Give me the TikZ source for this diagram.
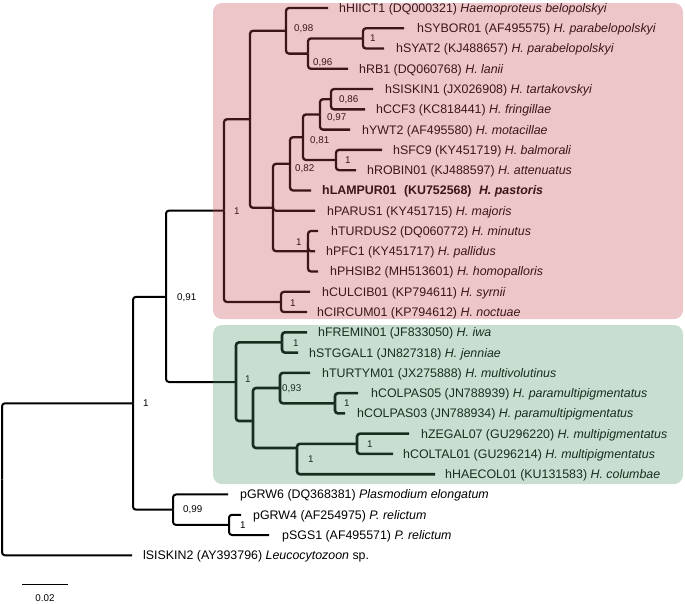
\documentclass[tikz,border=0pt]{standalone}
\usepackage{fontspec}
\setmainfont{Liberation Sans}
\definecolor{pinkov}{RGB}{194,71,81}
\definecolor{greenov}{RGB}{77,148,103}
\tikzset{
  outerbr/.style={line width=2pt, rounded corners=3pt},
  pinkbr/.style={line width=2.3pt, rounded corners=3pt},
  greenbr/.style={line width=2.6pt, rounded corners=3pt},
  leaftext/.style={anchor=base west, inner sep=0pt, font=\fontsize{12.4}{14}\selectfont},
  supp/.style={anchor=base west, inner sep=0pt, font=\fontsize{9.8}{11}\selectfont},
  box/.style={rounded corners=9pt, fill opacity=0.31}
}
\newcommand\mkleaf[5]{%
  \coordinate (#1e) at (#3,{8+20.27*#2});
  \node[leaftext] (#1) at (#4,{8+20.27*#2+4.45}) {#5};}
\newcommand\mksupp[4]{\node[supp] (#1) at (#2,{#3+3.5}) {#4};}
\begin{document}
\begin{tikzpicture}[x=1pt,y=-1pt]
\useasboundingbox (0,0) rectangle (685,603);
% leaves
\mkleaf{hHIICT1}{0}{328}{339}{hHIICT1 (DQ000321) \textit{Haemoproteus belopolskyi}}
\mkleaf{hSYBOR01}{1}{404}{417}{hSYBOR01 (AF495575) \textit{H. parabelopolskyi}}
\mkleaf{hSYAT2}{2}{384}{396}{hSYAT2 (KJ488657) \textit{H. parabelopolskyi}}
\mkleaf{hRB1}{3}{348}{359}{hRB1 (DQ060768) \textit{H. lanii}}
\mkleaf{hSISKIN1}{4}{373}{385}{hSISKIN1 (JX026908) \textit{H. tartakovskyi}}
\mkleaf{hCCF3}{5}{365}{376}{hCCF3 (KC818441) \textit{H. fringillae}}
\mkleaf{hYWT2}{6}{350}{362}{hYWT2 (AF495580) \textit{H. motacillae}}
\mkleaf{hSFC9}{7}{382}{393}{hSFC9 (KY451719) \textit{H. balmorali}}
\mkleaf{hROBIN01}{8}{356}{367}{hROBIN01 (KJ488597) \textit{H. attenuatus}}
\mkleaf{hLAMPUR01}{9}{311}{322}{\bfseries hLAMPUR01\hspace{0.6em}(KU752568)\hspace{0.6em}\textit{H. pastoris}}
\mkleaf{hPARUS1}{10}{315}{327}{hPARUS1 (KY451715) \textit{H. majoris}}
\mkleaf{hTURDUS2}{11}{318}{331}{hTURDUS2 (DQ060772) \textit{H. minutus}}
\mkleaf{hPFC1}{12}{315}{326}{hPFC1 (KY451717) \textit{H. pallidus}}
\mkleaf{hPHSIB2}{13}{318}{330}{hPHSIB2 (MH513601) \textit{H. homopalloris}}
\mkleaf{hCULCIB01}{14}{310}{322}{hCULCIB01 (KP794611) \textit{H. syrnii}}
\mkleaf{hCIRCUM01}{15}{307}{317}{hCIRCUM01 (KP794612) \textit{H. noctuae}}
\mkleaf{hFREMIN01}{16}{307}{318}{hFREMIN01 (JF833050) \textit{H. iwa}}
\mkleaf{hSTGGAL1}{17}{298}{309}{hSTGGAL1 (JN827318) \textit{H. jenniae}}
\mkleaf{hTURTYM01}{18}{310}{322}{hTURTYM01 (JX275888) \textit{H. multivolutinus}}
\mkleaf{hCOLPAS05}{19}{358}{371}{hCOLPAS05 (JN788939) \textit{H. paramultipigmentatus}}
\mkleaf{hCOLPAS03}{20}{345}{357}{hCOLPAS03 (JN788934) \textit{H. paramultipigmentatus}}
\mkleaf{hZEGAL07}{21}{409}{421}{hZEGAL07 (GU296220) \textit{H. multipigmentatus}}
\mkleaf{hCOLTAL01}{22}{393}{403}{hCOLTAL01 (GU296214) \textit{H. multipigmentatus}}
\mkleaf{hHAECOL01}{23}{435}{445}{hHAECOL01 (KU131583) \textit{H. columbae}}
\mkleaf{pGRW6}{24}{228}{240}{pGRW6 (DQ368381) \textit{Plasmodium elongatum}}
\mkleaf{pGRW4}{25}{241}{253}{pGRW4 (AF254975) \textit{P. relictum}}
\mkleaf{pSGS1}{26}{269}{282}{pSGS1 (AF495571) \textit{P. relictum}}
\mkleaf{lSISKIN2}{27}{132}{143}{lSISKIN2 (AY393796) \textit{Leucocytozoon} sp.}
% internal nodes
\coordinate (Root) at (2,479.3);
\coordinate (X) at (133,403.3);
\coordinate (U) at (166,296.8);
\coordinate (W) at (173,509.7);
\coordinate (V) at (229,524.9);
\coordinate (P) at (224,210.6);
\coordinate (T) at (236,382);
\coordinate (A) at (250,119.2);
\coordinate (L) at (281,302);
\coordinate (B) at (286,30.8);
\coordinate (C) at (308,53.6);
\coordinate (D) at (363,38.4);
\coordinate (E) at (273,207.8);
\coordinate (F) at (290,163.8);
\coordinate (H) at (303,137.2);
\coordinate (I) at (320,114.4);
\coordinate (K) at (331,99.2);
\coordinate (J) at (336,160);
\coordinate (G) at (308,251.2);
\coordinate (M) at (282,342.4);
\coordinate (S) at (253,421);
\coordinate (O) at (280,388);
\coordinate (N) at (335,403.3);
\coordinate (R) at (297,448);
\coordinate (Q) at (357,443.8);
% outer branches
\draw[outerbr] (Root) |- (X);
\draw[outerbr] (Root) |- (lSISKIN2e);
\draw[outerbr] (X) |- (U);
\draw[outerbr] (X) |- (W);
\draw[outerbr] (W) |- (pGRW6e);
\draw[outerbr] (W) |- (V);
\draw[outerbr] (V) |- (pGRW4e);
\draw[outerbr] (V) |- (pSGS1e);
\draw[outerbr] (U) |- (P);
\draw[outerbr] (U) |- (T);
% pink clade
\draw[pinkbr] (P) |- (A);
\draw[pinkbr] (P) |- (L);
\draw[pinkbr] (A) |- (B);
\draw[pinkbr] (A) |- (E);
\draw[pinkbr] (B) |- (hHIICT1e);
\draw[pinkbr] (B) |- (C);
\draw[pinkbr] (C) |- (D);
\draw[pinkbr] (C) |- (hRB1e);
\draw[pinkbr] (D) |- (hSYBOR01e);
\draw[pinkbr] (D) |- (hSYAT2e);
\draw[pinkbr] (E) |- (F);
\draw[pinkbr] (E) |- (hPARUS1e);
\draw[pinkbr] (E) |- (G);
\draw[pinkbr] (F) |- (H);
\draw[pinkbr] (F) |- (hLAMPUR01e);
\draw[pinkbr] (H) |- (I);
\draw[pinkbr] (H) |- (J);
\draw[pinkbr] (I) |- (K);
\draw[pinkbr] (I) |- (hYWT2e);
\draw[pinkbr] (K) |- (hSISKIN1e);
\draw[pinkbr] (K) |- (hCCF3e);
\draw[pinkbr] (J) |- (hSFC9e);
\draw[pinkbr] (J) |- (hROBIN01e);
\draw[pinkbr] (G) |- (hTURDUS2e);
\draw[pinkbr] (G) |- (hPFC1e);
\draw[pinkbr] (G) |- (hPHSIB2e);
\draw[pinkbr] (L) |- (hCULCIB01e);
\draw[pinkbr] (L) |- (hCIRCUM01e);
% green clade
\draw[greenbr] (T) |- (M);
\draw[greenbr] (T) |- (S);
\draw[greenbr] (M) |- (hFREMIN01e);
\draw[greenbr] (M) |- (hSTGGAL1e);
\draw[greenbr] (S) |- (O);
\draw[greenbr] (S) |- (R);
\draw[greenbr] (O) |- (hTURTYM01e);
\draw[greenbr] (O) |- (N);
\draw[greenbr] (N) |- (hCOLPAS05e);
\draw[greenbr] (N) |- (hCOLPAS03e);
\draw[greenbr] (R) |- (Q);
\draw[greenbr] (R) |- (hHAECOL01e);
\draw[greenbr] (Q) |- (hZEGAL07e);
\draw[greenbr] (Q) |- (hCOLTAL01e);
% support values
\mksupp{sX}{143}{403}{1}
\mksupp{sU}{177}{297}{0,91}
\mksupp{sP}{234}{211}{1}
\mksupp{sB}{294}{28}{0,98}
\mksupp{sC}{313}{62}{0,96}
\mksupp{sD}{370}{38}{1}
\mksupp{sK}{339}{99}{0,86}
\mksupp{sI}{327}{117}{0,97}
\mksupp{sH}{310}{140}{0,81}
\mksupp{sJ}{345}{160}{1}
\mksupp{sF}{295}{168}{0,82}
\mksupp{sG}{296}{242}{1}
\mksupp{sL}{290}{303}{1}
\mksupp{sT}{245}{379}{1}
\mksupp{sM}{293}{343}{1}
\mksupp{sO}{282}{388}{0,93}
\mksupp{sN}{344}{403}{1}
\mksupp{sQ}{367}{444}{1}
\mksupp{sR}{308}{459}{1}
\mksupp{sW}{183}{509}{0,99}
\mksupp{sV}{240}{525}{1}
% scale bar
\coordinate (sb1) at (22,584);
\coordinate (sb2) at (68,584);
\draw[line width=1pt] (sb1) -- (sb2);
\node[supp, anchor=base] (sblabel) at (45,601.5) {0.02};
% coloured clade boxes (translucent overlay)
\fill[box, fill=pinkov] (213,3) rectangle (683,319);
\fill[box, fill=greenov] (213,325) rectangle (683,484);
\end{tikzpicture}
\end{document}
